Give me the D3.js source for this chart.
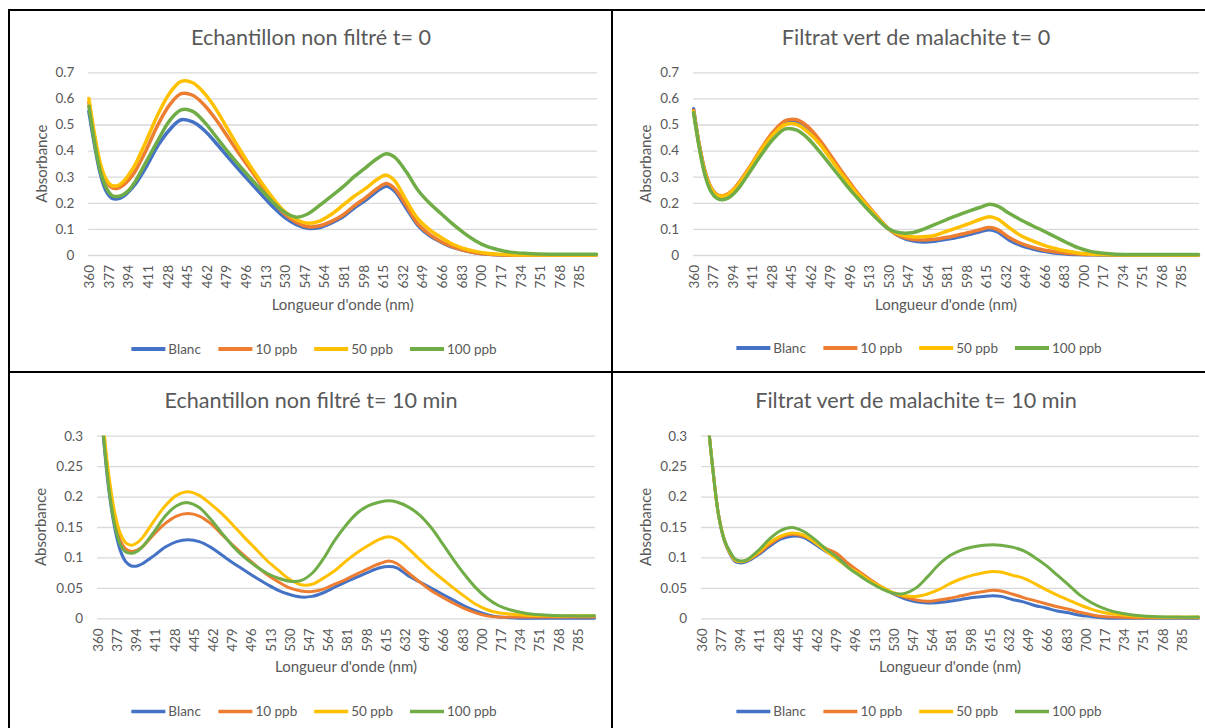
<!DOCTYPE html>
<html>
<head>
<meta charset="utf-8">
<script src="https://d3js.org/d3.v7.min.js"></script>
<style>
  body { margin: 0; background: #fff; }
  svg { display: block; }
  text { font-family: Lato, "Open Sans", sans-serif; fill: #595959; }
</style>
</head>
<body>
<svg id="chart" width="1205" height="728"></svg>
<script>
// =========================================
// DONNÉES
// =========================================

const wavelengths = [360, 365, 370, 375, 380, 385, 390, 395, 400, 410, 420, 430, 440, 450, 460, 470, 480, 490, 500,
    510, 520, 530, 540, 550, 560, 570, 580, 590, 600, 610, 618, 625, 635, 645, 655, 665, 675, 685, 695, 705,
    715, 725, 740, 760, 780, 800];

const seriesNames = ['Blanc', '10 ppb', '50 ppb', '100 ppb'];

const xTickLabels = [360, 377, 394, 411, 428, 445, 462, 479, 496, 513, 530, 547, 564, 581, 598, 615, 632, 649,
    666, 683, 700, 717, 734, 751, 768, 785];
const yTicksT0 = [0, 0.1, 0.2, 0.3, 0.4, 0.5, 0.6, 0.7];
const yTicksT10 = [0, 0.05, 0.1, 0.15, 0.2, 0.25, 0.3];

// Echantillon non filtré t= 0
const blancNF0 = [0.55, 0.42, 0.31, 0.245, 0.218, 0.215, 0.225, 0.245, 0.27, 0.34, 0.42, 0.48, 0.518, 0.51, 0.478,
    0.43, 0.378, 0.327, 0.278, 0.23, 0.183, 0.143, 0.116, 0.102, 0.105, 0.122, 0.145, 0.18, 0.21, 0.245, 0.263,
    0.245, 0.18, 0.115, 0.075, 0.05, 0.03, 0.018, 0.009, 0.004, 0.001, 0, 0, 0, 0, 0];
const ppb10NF0 = [0.585, 0.45, 0.34, 0.28, 0.258, 0.256, 0.268, 0.29, 0.32, 0.405, 0.5, 0.575, 0.618, 0.612, 0.575,
    0.52, 0.455, 0.39, 0.328, 0.265, 0.203, 0.155, 0.125, 0.108, 0.112, 0.128, 0.152, 0.188, 0.22, 0.255, 0.274,
    0.255, 0.19, 0.12, 0.08, 0.052, 0.032, 0.018, 0.009, 0.004, 0.001, 0, 0, 0, 0, 0];
const ppb50NF0 = [0.6, 0.46, 0.35, 0.29, 0.266, 0.266, 0.282, 0.31, 0.345, 0.44, 0.54, 0.62, 0.665, 0.66, 0.62,
    0.56, 0.485, 0.41, 0.34, 0.275, 0.215, 0.165, 0.135, 0.122, 0.13, 0.155, 0.19, 0.225, 0.255, 0.29, 0.306,
    0.285, 0.21, 0.14, 0.098, 0.068, 0.042, 0.025, 0.014, 0.007, 0.003, 0.001, 0, 0, 0, 0];
const ppb100NF0 = [0.57, 0.43, 0.32, 0.258, 0.228, 0.224, 0.232, 0.25, 0.28, 0.36, 0.44, 0.515, 0.556, 0.55, 0.51,
    0.455, 0.398, 0.345, 0.295, 0.247, 0.2, 0.163, 0.145, 0.158, 0.19, 0.225, 0.26, 0.3, 0.335, 0.37, 0.388,
    0.375, 0.32, 0.25, 0.2, 0.16, 0.12, 0.085, 0.055, 0.033, 0.02, 0.011, 0.006, 0.003, 0.003, 0.003];

// Filtrat vert de malachite t= 0
const blancF0 = [0.56, 0.42, 0.32, 0.26, 0.232, 0.225, 0.232, 0.25, 0.275, 0.34, 0.41, 0.47, 0.51, 0.51, 0.48,
    0.43, 0.372, 0.31, 0.25, 0.195, 0.145, 0.1, 0.07, 0.055, 0.05, 0.053, 0.06, 0.068, 0.078, 0.09, 0.097,
    0.088, 0.058, 0.037, 0.024, 0.014, 0.008, 0.004, 0.002, 0.001, 0, 0, 0, 0, 0, 0];
const ppb10F0 = [0.555, 0.42, 0.32, 0.26, 0.232, 0.227, 0.235, 0.253, 0.28, 0.345, 0.415, 0.475, 0.515, 0.518,
    0.49, 0.44, 0.378, 0.315, 0.255, 0.2, 0.148, 0.1, 0.072, 0.06, 0.057, 0.06, 0.067, 0.076, 0.086, 0.098, 0.105,
    0.097, 0.067, 0.045, 0.03, 0.019, 0.012, 0.007, 0.004, 0.002, 0.002, 0.001, 0.001, 0.001, 0, 0];
const ppb50F0 = [0.55, 0.415, 0.315, 0.258, 0.23, 0.225, 0.232, 0.25, 0.275, 0.34, 0.41, 0.465, 0.5, 0.5, 0.47,
    0.425, 0.365, 0.305, 0.248, 0.195, 0.145, 0.1, 0.078, 0.07, 0.07, 0.075, 0.09, 0.105, 0.12, 0.137, 0.147,
    0.138, 0.105, 0.075, 0.055, 0.038, 0.025, 0.015, 0.008, 0.004, 0.002, 0.001, 0, 0, 0, 0];
const ppb100F0 = [0.545, 0.41, 0.305, 0.245, 0.218, 0.212, 0.218, 0.235, 0.26, 0.325, 0.39, 0.447, 0.483, 0.478,
    0.445, 0.395, 0.34, 0.285, 0.232, 0.183, 0.138, 0.1, 0.085, 0.085, 0.098, 0.116, 0.135, 0.152, 0.168, 0.183,
    0.194, 0.187, 0.16, 0.135, 0.113, 0.092, 0.07, 0.048, 0.028, 0.015, 0.008, 0.004, 0.002, 0.002, 0.002, 0.002];

// Echantillon non filtré t= 10 min
const blancNF10 = [0.42, 0.3, 0.21, 0.15, 0.112, 0.093, 0.086, 0.086, 0.09, 0.103, 0.117, 0.126, 0.129, 0.126,
    0.117, 0.104, 0.091, 0.079, 0.067, 0.056, 0.046, 0.039, 0.035, 0.036, 0.042, 0.051, 0.06, 0.068, 0.076,
    0.083, 0.085, 0.083, 0.07, 0.06, 0.05, 0.04, 0.03, 0.02, 0.012, 0.006, 0.002, 0.001, 0, 0, 0, 0];
const ppb10NF10 = [0.42, 0.31, 0.22, 0.16, 0.128, 0.114, 0.11, 0.112, 0.118, 0.138, 0.156, 0.168, 0.172, 0.168,
    0.156, 0.138, 0.12, 0.103, 0.087, 0.072, 0.06, 0.05, 0.045, 0.044, 0.048, 0.056, 0.064, 0.073, 0.082, 0.09,
    0.094, 0.09, 0.075, 0.06, 0.046, 0.035, 0.025, 0.016, 0.009, 0.004, 0.002, 0.002, 0.002, 0.002, 0.002, 0.002];
const ppb50NF10 = [0.43, 0.32, 0.235, 0.175, 0.14, 0.124, 0.12, 0.124, 0.133, 0.16, 0.185, 0.202, 0.208, 0.202,
    0.188, 0.172, 0.153, 0.133, 0.114, 0.095, 0.079, 0.064, 0.055, 0.056, 0.066, 0.078, 0.094, 0.108, 0.12, 0.13,
    0.134, 0.13, 0.115, 0.097, 0.08, 0.065, 0.05, 0.036, 0.023, 0.014, 0.009, 0.007, 0.005, 0.004, 0.004, 0.004];
const ppb100NF10 = [0.42, 0.305, 0.215, 0.155, 0.122, 0.109, 0.107, 0.11, 0.118, 0.142, 0.168, 0.185, 0.19, 0.182,
    0.163, 0.14, 0.118, 0.1, 0.086, 0.074, 0.066, 0.061, 0.062, 0.074, 0.098, 0.128, 0.153, 0.173, 0.185, 0.191,
    0.193, 0.191, 0.183, 0.17, 0.15, 0.124, 0.097, 0.072, 0.05, 0.033, 0.021, 0.014, 0.008, 0.005, 0.004, 0.004];

// Filtrat vert de malachite t= 10 min
const blancF10 = [0.5, 0.34, 0.245, 0.17, 0.128, 0.106, 0.093, 0.091, 0.093, 0.104, 0.118, 0.13, 0.135, 0.133,
    0.122, 0.11, 0.1, 0.087, 0.074, 0.061, 0.05, 0.04, 0.032, 0.027, 0.025, 0.026, 0.028, 0.031, 0.034, 0.036,
    0.037, 0.036, 0.031, 0.027, 0.021, 0.017, 0.012, 0.009, 0.005, 0.003, 0.001, 0, 0, 0, 0, 0];
const ppb10F10 = [0.5, 0.34, 0.245, 0.17, 0.13, 0.108, 0.095, 0.093, 0.095, 0.106, 0.121, 0.133, 0.138, 0.135,
    0.126, 0.115, 0.106, 0.09, 0.076, 0.063, 0.051, 0.041, 0.035, 0.03, 0.028, 0.03, 0.033, 0.037, 0.041, 0.044,
    0.046, 0.045, 0.04, 0.034, 0.029, 0.024, 0.019, 0.015, 0.01, 0.006, 0.003, 0.002, 0.001, 0.001, 0.001, 0.001];
const ppb50F10 = [0.5, 0.34, 0.245, 0.17, 0.13, 0.108, 0.095, 0.093, 0.095, 0.108, 0.124, 0.135, 0.14, 0.137,
    0.125, 0.111, 0.097, 0.084, 0.073, 0.061, 0.051, 0.042, 0.037, 0.036, 0.04, 0.047, 0.057, 0.065, 0.071, 0.075,
    0.077, 0.076, 0.071, 0.066, 0.057, 0.047, 0.038, 0.03, 0.022, 0.015, 0.01, 0.007, 0.004, 0.002, 0.002, 0.002];
const ppb100F10 = [0.5, 0.34, 0.245, 0.17, 0.13, 0.11, 0.097, 0.094, 0.096, 0.111, 0.13, 0.144, 0.149, 0.143,
    0.13, 0.114, 0.1, 0.083, 0.07, 0.058, 0.048, 0.041, 0.041, 0.05, 0.068, 0.088, 0.103, 0.112, 0.117, 0.12,
    0.121, 0.12, 0.117, 0.111, 0.1, 0.087, 0.071, 0.055, 0.038, 0.026, 0.017, 0.011, 0.006, 0.003, 0.002, 0.002];

// =========================================
// MISE EN PAGE
// =========================================

const COLORS = ['#4472C4', '#ED7D31', '#FFC000', '#70AD47'];

const panels = [
    { title: 'Echantillon non filtré t= 0', series: [blancNF0, ppb10NF0, ppb50NF0, ppb100NF0], yTicks: yTicksT0,
      cx: 311, titleY: 45, left: 88.3, right: 597, top: 72.3, bottom: 255, yTitleX: 42, xTitleY: 310, legendY: 349, lineW: 3.5 },
    { title: 'Filtrat vert de malachite t= 0', series: [blancF0, ppb10F0, ppb50F0, ppb100F0], yTicks: yTicksT0,
      cx: 916, titleY: 45, left: 693, right: 1199, top: 72.3, bottom: 255, yTitleX: 646, xTitleY: 310, legendY: 348, lineW: 3.5 },
    { title: 'Echantillon non filtré t= 10 min', series: [blancNF10, ppb10NF10, ppb50NF10, ppb100NF10], yTicks: yTicksT10,
      cx: 311, titleY: 408, left: 97, right: 595, top: 435.7, bottom: 618.3, yTitleX: 41, xTitleY: 672, legendY: 711.5, lineW: 3 },
    { title: 'Filtrat vert de malachite t= 10 min', series: [blancF10, ppb10F10, ppb50F10, ppb100F10], yTicks: yTicksT10,
      cx: 916, titleY: 408, left: 701, right: 1199, top: 435.7, bottom: 618.3, yTitleX: 646, xTitleY: 672, legendY: 711.5, lineW: 3 }
];

const svg = d3.select('#chart');

panels.forEach((p, idx) => drawPanel(p, idx));

// Cadre du tableau
const border = svg.append('g').attr('stroke', '#000').attr('stroke-width', 2);
border.append('line').attr('x1', 9).attr('x2', 9).attr('y1', 9).attr('y2', 728);
border.append('line').attr('x1', 612).attr('x2', 612).attr('y1', 9).attr('y2', 728);
border.append('line').attr('x1', 8).attr('x2', 1205).attr('y1', 10).attr('y2', 10);
border.append('line').attr('x1', 8).attr('x2', 1205).attr('y1', 372).attr('y2', 372);

function drawPanel(p, idx) {
    const g = svg.append('g').attr('class', 'panel');

    const x = d3.scaleLinear().domain([359.5, 800.5]).range([p.left, p.right]);
    const y = d3.scaleLinear().domain([0, d3.max(p.yTicks)]).range([p.bottom, p.top]);

    // Titre
    g.append('text')
        .attr('x', p.cx).attr('y', p.titleY)
        .attr('text-anchor', 'middle')
        .style('font-size', '21.6px')
        .text(p.title);

    // Axe Y + grille
    const yAxis = g.append('g')
        .attr('transform', `translate(${p.left},0)`)
        .call(d3.axisLeft(y).tickValues(p.yTicks).tickSize(-(p.right - p.left)).tickPadding(14).tickFormat(d => String(d)));
    yAxis.select('.domain').remove();
    yAxis.selectAll('line').attr('stroke', '#d9d9d9').attr('stroke-width', 1.3);
    yAxis.selectAll('text').attr('fill', '#595959').style('font-size', '13.5px').style('font-family', 'Lato, sans-serif');

    // Axe X (libellés verticaux)
    const xAxis = g.append('g')
        .attr('transform', `translate(0,${p.bottom})`)
        .call(d3.axisBottom(x).tickValues(xTickLabels).tickSize(0).tickFormat(d => String(d)));
    xAxis.select('.domain').remove();
    xAxis.selectAll('text')
        .attr('fill', '#595959')
        .style('font-size', '13.5px').style('font-family', 'Lato, sans-serif')
        .attr('transform', 'rotate(-90)')
        .attr('text-anchor', 'end')
        .attr('x', -10).attr('y', 0).attr('dy', '0.35em');

    // Titres d'axes
    g.append('text')
        .attr('transform', `translate(${p.yTitleX},${(p.top + p.bottom) / 2}) rotate(-90)`)
        .attr('text-anchor', 'middle').attr('dy', '0.35em')
        .style('font-size', '15px')
        .text('Absorbance');
    g.append('text')
        .attr('x', (p.left + p.right) / 2).attr('y', p.xTitleY)
        .attr('text-anchor', 'middle')
        .style('font-size', '15px')
        .text("Longueur d'onde (nm)");

    // Courbes (découpées à la zone de tracé)
    const clipId = `clip-${idx}`;
    svg.append('clipPath').attr('id', clipId)
        .append('rect')
        .attr('x', p.left - 6).attr('y', p.top)
        .attr('width', p.right - p.left + 12).attr('height', p.bottom - p.top + 3);

    const line = d3.line()
        .x((d, i) => x(wavelengths[i]))
        .y(d => y(d))
        .curve(d3.curveCatmullRom.alpha(0.5));

    g.append('g').attr('clip-path', `url(#${clipId})`)
        .selectAll('path')
        .data(p.series)
        .join('path')
        .attr('d', line)
        .attr('fill', 'none')
        .attr('stroke', (d, i) => COLORS[i])
        .attr('stroke-width', p.lineW)
        .attr('stroke-linejoin', 'round')
        .attr('stroke-linecap', 'round');

    // Légende
    const legend = g.append('g');
    const items = legend.selectAll('g').data(seriesNames).join('g');
    items.append('line')
        .attr('x1', 0).attr('x2', 34).attr('y1', 0).attr('y2', 0)
        .attr('stroke', (d, i) => COLORS[i])
        .attr('stroke-width', p.lineW + 0.5);
    items.append('text')
        .attr('x', 37).attr('dy', '0.35em')
        .style('font-size', '13.5px')
        .text(d => d);

    let cursor = 0;
    items.each(function () {
        const w = this.getBBox().width;
        d3.select(this).attr('transform', `translate(${cursor},0)`);
        cursor += w + 17;
    });
    const total = cursor - 17;
    legend.attr('transform', `translate(${p.cx - total / 2 + 3},${p.legendY})`);
}
</script>
</body>
</html>
